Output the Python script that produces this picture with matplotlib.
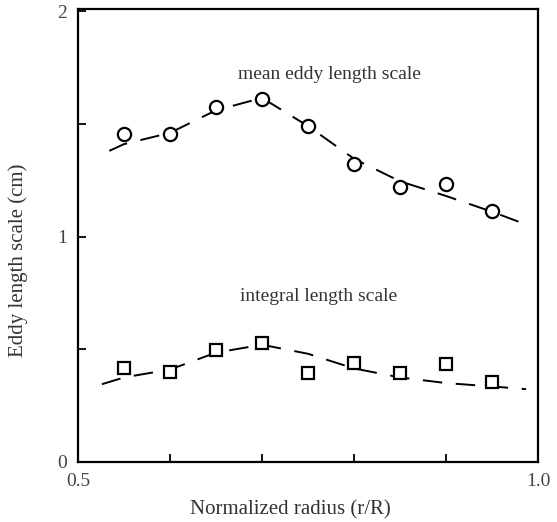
"""
Eddy length scale vs normalized radius
"""

import matplotlib
matplotlib.use('Agg')
import matplotlib.pyplot as plt

# Datos medidos
radio = [0.55, 0.60, 0.65, 0.70, 0.75, 0.80, 0.85, 0.90, 0.95]
escala_media = [1.456, 1.456, 1.575, 1.612, 1.489, 1.323, 1.219, 1.234, 1.114]
escala_integral = [0.419, 0.397, 0.496, 0.529, 0.393, 0.440, 0.393, 0.433, 0.356]

# Curvas de ajuste
radio_ajuste_media = [0.534, 0.55, 0.60, 0.65, 0.70, 0.75, 0.80, 0.85, 0.90, 0.95, 0.986]
ajuste_media = [1.38, 1.41, 1.46, 1.56, 1.615, 1.49, 1.345, 1.245, 1.18, 1.11, 1.055]
radio_ajuste_integral = [0.526, 0.55, 0.60, 0.65, 0.70, 0.75, 0.80, 0.85, 0.90, 0.95, 0.987]
ajuste_integral = [0.345, 0.375, 0.41, 0.485, 0.52, 0.48, 0.415, 0.375, 0.35, 0.335, 0.323]

plt.rcParams['font.family'] = ['Liberation Serif', 'DejaVu Serif']

fig = plt.figure(figsize=(5.57, 5.22), dpi=100)
ax = fig.add_axes([0.140, 0.115, 0.826, 0.868])

ax.plot(radio_ajuste_media, ajuste_media, color='black', lw=1.4,
        linestyle=(0, (10, 7)), zorder=2)
ax.plot(radio_ajuste_integral, ajuste_integral, color='black', lw=1.4,
        linestyle=(0, (10, 7)), zorder=2)

ax.plot(radio, escala_media, linestyle='none', marker='o', markersize=9.5,
        markerfacecolor='white', markeredgecolor='black', markeredgewidth=1.6, zorder=3)
ax.plot(radio, escala_integral, linestyle='none', marker='s', markersize=8,
        markerfacecolor='white', markeredgecolor='black', markeredgewidth=1.6, zorder=3)

ax.text(0.773, 1.717, 'mean eddy length scale', ha='center', va='center',
        fontsize=14, color='#333333')
ax.text(0.761, 0.732, 'integral length scale', ha='center', va='center',
        fontsize=14, color='#333333')

ax.set_xlim(0.5, 1.0)
ax.set_ylim(0, 2.01)
ax.set_xticks([0.5, 0.6, 0.7, 0.8, 0.9, 1.0])
ax.set_xticklabels(['0.5', '', '', '', '', '1.0'])
ax.set_yticks([0, 0.5, 1, 1.5, 2])
ax.set_yticklabels(['0', '', '1', '', '2'])
ax.tick_params(direction='in', length=6, width=1.3, labelsize=14,
               colors='black', labelcolor='#444444')
ax.tick_params(axis='x', pad=8)
ax.tick_params(axis='y', pad=8)

for s in ax.spines.values():
    s.set_linewidth(1.6)

ax.set_xlabel('Normalized radius (r/R)', fontsize=15, color='#333333')
ax.set_ylabel('Eddy length scale (cm)', fontsize=15, color='#333333')
ax.xaxis.set_label_coords(0.461, -0.085)
ax.yaxis.set_label_coords(-0.108, 0.446)

plt.savefig('out.png', dpi=100)
